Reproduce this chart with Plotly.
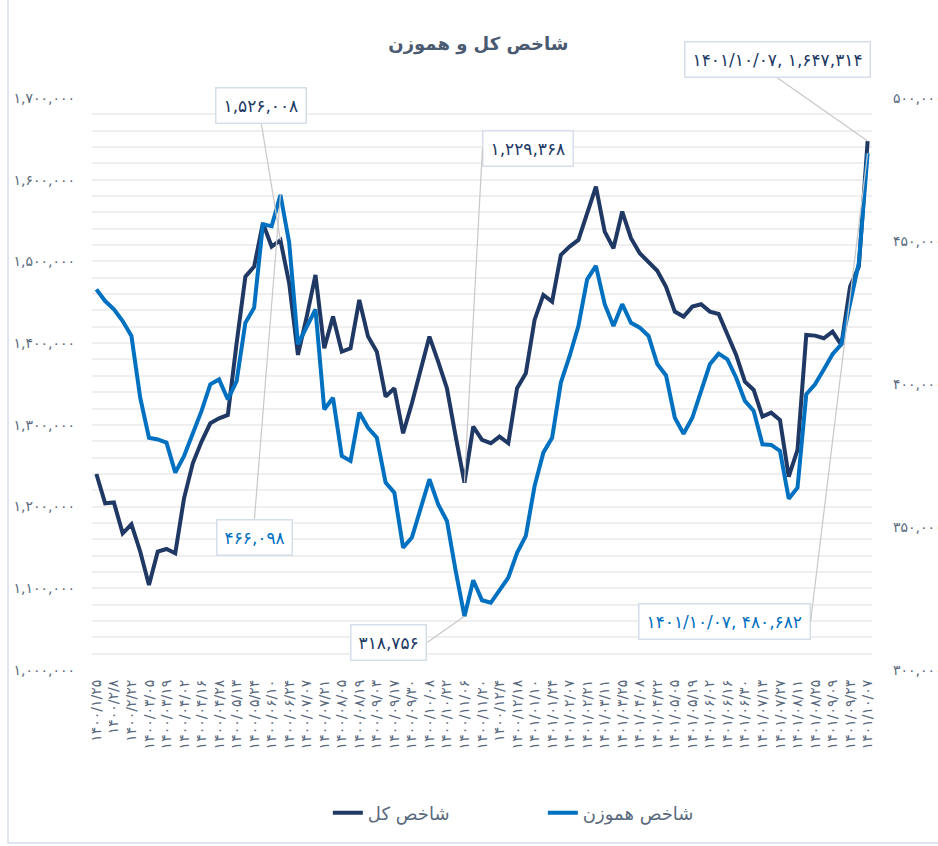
import plotly.graph_objects as go

# ---- data ----
x_labels = ["۱۴۰۰/۱/۲۵", "۱۴۰۰/۲/۸", "۱۴۰۰/۲/۲۲", "۱۴۰۰/۰۳/۰۵", "۱۴۰۰/۰۳/۱۹", "۱۴۰۰/۰۴/۰۲",
            "۱۴۰۰/۰۴/۱۶", "۱۴۰۰/۰۴/۲۸", "۱۴۰۰/۰۵/۱۳", "۱۴۰۰/۰۵/۲۴", "۱۴۰۰/۰۶/۱۰", "۱۴۰۰/۰۶/۲۴",
            "۱۴۰۰/۰۷/۰۷", "۱۴۰۰/۰۷/۲۱", "۱۴۰۰/۰۸/۰۵", "۱۴۰۰/۰۸/۱۹", "۱۴۰۰/۰۹/۰۳", "۱۴۰۰/۰۹/۱۷",
            "۱۴۰۰/۰۹/۳۰", "۱۴۰۰/۱۰/۰۸", "۱۴۰۰/۱۰/۲۲", "۱۴۰۰/۱۱/۰۶", "۱۴۰۰/۱۱/۲۰", "۱۴۰۰/۱۲/۴",
            "۱۴۰۰/۱۲/۱۸", "۱۴۰۱/۰۱/۱۰", "۱۴۰۱/۰۱/۲۴", "۱۴۰۱/۰۲/۰۷", "۱۴۰۱/۰۲/۲۱", "۱۴۰۱/۰۳/۱۱",
            "۱۴۰۱/۰۳/۲۵", "۱۴۰۱/۰۴/۰۸", "۱۴۰۱/۰۴/۲۲", "۱۴۰۱/۰۵/۰۵", "۱۴۰۱/۰۵/۱۹", "۱۴۰۱/۰۶/۰۲",
            "۱۴۰۱/۰۶/۱۶", "۱۴۰۱/۰۶/۳۰", "۱۴۰۱/۰۷/۱۳", "۱۴۰۱/۰۷/۲۷", "۱۴۰۱/۰۸/۱۱", "۱۴۰۱/۰۸/۲۵",
            "۱۴۰۱/۰۹/۰۹", "۱۴۰۱/۰۹/۲۳", "۱۴۰۱/۱۰/۰۷"]

total_index = [1239900, 1204000, 1205000, 1167300, 1178300, 1145000, 1104000, 1144800, 1148100, 1142800,
               1210100, 1253000, 1279500, 1301900, 1308000, 1312100, 1399800, 1481400, 1493700, 1546700,
               1518200, 1526008, 1473300, 1385600, 1432500, 1483500, 1393700, 1432500, 1389600, 1393700,
               1452900, 1408000, 1389600, 1334600, 1344700, 1289700, 1326400, 1367200, 1408000, 1377400,
               1344700, 1285600, 1229368, 1297800, 1281500, 1277500, 1285600, 1277500, 1344800, 1363100,
               1428400, 1459000, 1450800, 1508000, 1518100, 1526300, 1559000, 1591600, 1536500, 1516100,
               1561000, 1528400, 1510000, 1499800, 1488500, 1469000, 1438600, 1432500, 1444700, 1447600,
               1438600, 1435700, 1410000, 1385600, 1352900, 1342700, 1310100, 1315000, 1306000, 1236600,
               1269300, 1410000, 1409200, 1406000, 1414100, 1397800, 1469200, 1493700, 1647314]

equal_weight = [433100, 429000, 426100, 422000, 416800, 395200, 381200, 380600, 379500, 369000,
                374800, 382400, 390600, 399900, 401600, 394600, 401000, 421400, 426700, 455800,
                455200, 466098, 449400, 413900, 419700, 426100, 391100, 395200, 374800, 373100,
                390000, 384700, 381200, 365500, 362000, 342800, 346300, 356700, 366700, 357900,
                352100, 334600, 318756, 331400, 324400, 323500, 328200, 332300, 341000, 346900,
                364300, 376000, 381200, 400500, 409800, 420300, 436600, 441300, 427900, 420300,
                427900, 421400, 419700, 416800, 407000, 403000, 388200, 382600, 388200, 397600,
                406900, 410600, 408600, 402200, 394100, 390600, 378900, 378700, 376600, 359900,
                363700, 396400, 399900, 405100, 410400, 413900, 427900, 442400, 480682]

left_tick_vals = [1000000, 1100000, 1200000, 1300000, 1400000, 1500000, 1600000, 1700000]
left_tick_text = ["۱,۰۰۰,۰۰۰", "۱,۱۰۰,۰۰۰", "۱,۲۰۰,۰۰۰", "۱,۳۰۰,۰۰۰", "۱,۴۰۰,۰۰۰",
                  "۱,۵۰۰,۰۰۰", "۱,۶۰۰,۰۰۰", "۱,۷۰۰,۰۰۰"]
right_tick_vals = [300000, 350000, 400000, 450000, 500000]
right_tick_text = ["۳۰۰,۰۰۰", "۳۵۰,۰۰۰", "۴۰۰,۰۰۰", "۴۵۰,۰۰۰", "۵۰۰,۰۰۰"]

title_text = "شاخص کل و هموزن"
name_total = "شاخص کل"
name_equal = "شاخص هموزن"

# ---- styling ----
DARK = "#203864"
BLUE = "#0070c0"
TXT = "#5a6a7e"
FONT = "DejaVu Sans"

n = len(total_index)
xs = list(range(n))

fig = go.Figure()
fig.add_trace(go.Scatter(x=xs, y=total_index, name=name_total, mode="lines",
                         line=dict(color=DARK, width=4), yaxis="y"))
fig.add_trace(go.Scatter(x=xs, y=equal_weight, name=name_equal, mode="lines",
                         line=dict(color=BLUE, width=4), yaxis="y2"))

# gridlines every 20,000 on left axis, labels every 100,000
grid_vals = list(range(1000000, 1700001, 20000))
grid_text = [left_tick_text[left_tick_vals.index(v)] if v in left_tick_vals else "" for v in grid_vals]

def fa_num(v):
    s = f"{v:,}"
    return s.translate(str.maketrans("0123456789", "۰۱۲۳۴۵۶۷۸۹"))

last = n - 1
i_peak = equal_weight.index(max(equal_weight[:40]))
i_trough = equal_weight.index(min(equal_weight))

box = dict(bgcolor="white", bordercolor="#d5deea", borderwidth=1.5, borderpad=7,
           showarrow=True, arrowhead=0, arrowwidth=1.2, arrowcolor="#c8c8c8")
AF = 17

annotations = [
    dict(x=i_peak, y=total_index[i_peak], xref="x", yref="y", text=fa_num(total_index[i_peak]),
         ax=-19, ay=-116, xanchor="center", yanchor="bottom",
         font=dict(family=FONT, size=AF, color=DARK), **box),
    dict(x=i_peak, y=equal_weight[i_peak], xref="x", yref="y2", text=fa_num(equal_weight[i_peak]),
         ax=-26, ay=324, xanchor="center", yanchor="top",
         font=dict(family=FONT, size=AF, color=BLUE), **box),
    dict(x=i_trough, y=total_index[i_trough], xref="x", yref="y", text=fa_num(total_index[i_trough]),
         ax=18, ay=-334, xanchor="left", yanchor="middle",
         font=dict(family=FONT, size=AF, color=DARK), **box),
    dict(x=i_trough, y=equal_weight[i_trough], xref="x", yref="y2", text=fa_num(equal_weight[i_trough]),
         ax=-37, ay=26, xanchor="right", yanchor="middle",
         font=dict(family=FONT, size=AF, color=DARK), **box),
    dict(x=last, y=total_index[last], xref="x", yref="y",
         text=x_labels[-1] + ", " + fa_num(total_index[last]),
         ax=-90, ay=-63, xanchor="center", yanchor="bottom",
         font=dict(family=FONT, size=AF, color=DARK), **box),
    dict(x=last, y=equal_weight[last], xref="x", yref="y2",
         text=x_labels[-1] + ", " + fa_num(equal_weight[last]),
         ax=-57, ay=468, xanchor="right", yanchor="middle",
         font=dict(family=FONT, size=AF, color=BLUE), **box),
]

fig.update_layout(
    width=938, height=846,
    margin=dict(l=92, r=66, t=98, b=176, autoexpand=False),
    paper_bgcolor="white", plot_bgcolor="white",
    font=dict(family=FONT, color=TXT),
    title=dict(text="<b>" + title_text + "</b>", x=0.51, xanchor="center", y=0.948, yanchor="middle",
               font=dict(family=FONT, size=18, color="#4a5a70")),
    showlegend=True,
    legend=dict(orientation="h", x=0.578, xanchor="center", y=-0.25, yanchor="middle",
                font=dict(family=FONT, size=18, color=TXT), entrywidth=170,
                bgcolor="rgba(0,0,0,0)"),
    xaxis=dict(range=[-0.5, n - 0.5], tickmode="array", tickvals=xs[::2], ticktext=x_labels,
               tickangle=-90, showgrid=False, zeroline=False, showline=False, ticks="",
               automargin=False,
               tickfont=dict(family=FONT, size=14, color=TXT), ticklabelstandoff=6),
    yaxis=dict(range=[1000000, 1700000], tickmode="array", tickvals=grid_vals, ticktext=grid_text,
               showgrid=True, gridcolor="#efefef", gridwidth=1.5, zeroline=False, showline=False,
               automargin=False,
               ticks="", tickfont=dict(family=FONT, size=14, color=TXT), ticklabelstandoff=16),
    yaxis2=dict(range=[300000, 500000], overlaying="y", side="right", tickmode="array",
                tickvals=right_tick_vals, ticktext=right_tick_text, showgrid=False, zeroline=False,
                automargin=False,
                showline=False, ticks="", tickfont=dict(family=FONT, size=14, color=TXT),
                ticklabelstandoff=20),
    annotations=annotations,
    shapes=[dict(type="rect", xref="paper", yref="paper",
                 x0=(8 - 92) / 780, x1=(945 - 92) / 780, y0=(670 - 843) / 572, y1=(670 + 5) / 572,
                 line=dict(color="#d5deea", width=1.5), fillcolor="rgba(0,0,0,0)", layer="below")],
)

fig.write_html("out.html", config={"displayModeBar": False},
               post_script="document.body.style.margin='0';")
